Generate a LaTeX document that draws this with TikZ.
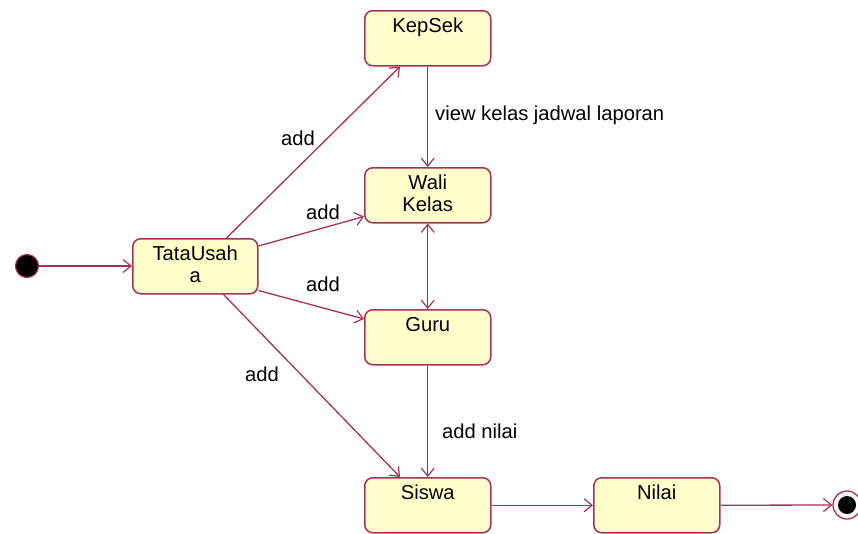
\documentclass[tikz,border=0pt]{standalone}
\usepackage{fontspec}
\setmainfont{Liberation Sans}
\usetikzlibrary{arrows.meta}
\definecolor{linec}{HTML}{A8305A}
\definecolor{fillc}{HTML}{FFFFCC}
\newcommand\stbox[2][126pt]{\parbox[t][55pt][t]{#1}{\centering\rule{0pt}{22pt}#2}}
\begin{document}
\begin{tikzpicture}[x=1pt,y=-1pt,
  every node/.style={font=\fontsize{20.2}{22}\selectfont},
  state/.style={draw=linec, fill=fillc, rounded corners=8pt, line width=1.5pt,
    inner sep=0pt, anchor=north west},
  barb/.tip={Straight Barb[length=8pt,width=13pt,line width=1.2pt]},
  conn/.style={draw=linec, line width=1.3pt, -barb},
  lbl/.style={inner sep=0pt, text=black}]
\useasboundingbox (0,0) rectangle (858,533);
\node[state] (kep) at (364,10) {\stbox{KepSek}};
\node[state] (wali) at (364,167) {\stbox{Wali\\Kelas}};
\node[state] (tu) at (132,238) {\stbox[125pt]{TataUsah\\a}};
\node[state] (guru) at (364,309) {\stbox{Guru}};
\node[state] (siswa) at (364,477) {\stbox{Siswa}};
\node[state] (nilai) at (593,477) {\stbox{Nilai}};
\node[circle, draw=linec, fill=black, line width=1.2pt, minimum size=23pt, inner sep=0pt] (init) at (27,266) {};
\node[circle, draw=linec, fill=white, line width=1.3pt, minimum size=28pt, inner sep=0pt] (fin) at (847,505) {};
\node[circle, fill=black, minimum size=18pt, inner sep=0pt] (finin) at (847,505) {};

\draw[conn] (init) -- (init -| tu.west);
\draw[conn] ([xshift=-32pt]tu.north east) -- ([xshift=36pt]kep.south west);
\draw[conn] ([yshift=-8pt]tu.north east) -- ([yshift=7pt]wali.south west);
\draw[conn] ([yshift=4pt]tu.south east) -- ([yshift=-10pt]guru.north west);
\draw[conn] ([xshift=-35pt]tu.south east) -- ([xshift=36pt]siswa.north west);
\draw[conn] (kep.south) -- (wali.north);
\draw[conn, barb-barb] (wali.south) -- (guru.north);
\draw[conn] (guru.south) -- (siswa.north);
\draw[conn] (siswa.east) -- (nilai.west);
\draw[conn] (nilai.east) -- (fin.west);

\node[lbl] (l1) at (298,138) {add};
\node[lbl] (l2) at (323,212) {add};
\node[lbl] (l3) at (323,284) {add};
\node[lbl] (l4) at (262,374) {add};
\node[lbl, anchor=west] (l5) at (435,115) {view kelas jadwal laporan};
\node[lbl, anchor=west] (l6) at (442,431) {add nilai};
\end{tikzpicture}
\end{document}
